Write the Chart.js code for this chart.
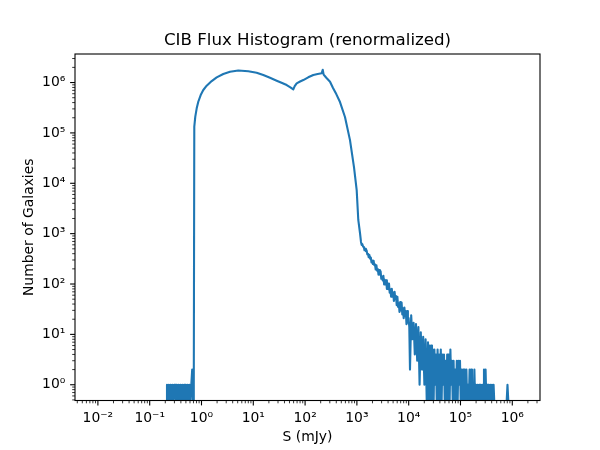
<!DOCTYPE html>
<html>
<head>
<meta charset="utf-8">
<title>CIB Flux Histogram</title>
<script src="https://cdn.jsdelivr.net/npm/chart.js@4.4.1/dist/chart.umd.min.js"></script>
<style>
  html, body { margin: 0; padding: 0; background: #fff; }
  #wrap { width: 600px; height: 450px; }
</style>
</head>
<body>
<div id="wrap"><canvas id="fluxChart" width="600" height="450"></canvas></div>
<script>
// Flux (mJy) and galaxy counts per bin
// faint end: a few single galaxies per bin
const lowFlux = [0.2115, 0.2158, 0.2246, 0.2337, 0.2432, 0.2532, 0.2634, 0.2742, 0.2854, 0.2972,
  0.3092, 0.3219, 0.3350, 0.3487, 0.3629, 0.3777, 0.3931, 0.4093, 0.4259, 0.4433, 0.4614, 0.4803,
  0.4995, 0.5200, 0.5414, 0.5636, 0.5864, 0.6104, 0.6353, 0.6613, 0.6882, 0.7100];
const lowCounts = [0, 1, 0, 1, 0, 1, 0, 1, 0, 1, 1, 0, 1, 0, 1, 0, 1, 0, 1, 0, 1, 0, 1, 0, 1, 0,
  1, 0, 1, 2, 0, 1];

// main population
const bulkFlux = [0.726, 0.759, 0.808, 0.867, 0.965, 1.083, 1.26, 1.574, 1.965, 2.635, 3.549,
  5.13, 8.01, 11.6, 15.6, 21, 28.3, 36, 44.2, 52, 59.2, 63, 68.8, 80, 92.3, 115, 144, 175, 209,
  219, 228, 245, 265, 303, 346, 400, 472, 589, 736, 879, 991, 1064, 1148, 1200];
const bulkCounts = [1.33e5, 2.10e5, 3.08e5, 4.16e5, 5.65e5, 7.11e5, 8.65e5, 1.07e6, 1.27e6,
  1.48e6, 1.64e6, 1.74e6, 1.68e6, 1.57e6, 1.41e6, 1.24e6, 1.09e6, 9.8e5, 8.93e5, 8.04e5, 7.34e5,
  8.5e5, 9.66e5, 1.05e6, 1.12e6, 1.27e6, 1.41e6, 1.48e6, 1.53e6, 1.795e6, 1.44e6, 1.32e6, 1.2e6,
  1.04e6, 7.8e5, 5.9e5, 4.1e5, 2.07e5, 7.2e4, 2.1e4, 7.3e3, 1.87e3, 1.03e3, 683];

// bright tail, getting noisy
const tailFlux = [1238, 1277, 1318, 1359, 1402, 1447, 1492, 1540, 1588, 1638,
  1690, 1744, 1799, 1856, 1914, 1975, 2037, 2102, 2168, 2236,
  2307, 2380, 2455, 2532, 2613, 2695, 2780, 2868, 2959, 3052,
  3149, 3248, 3351, 3457, 3566, 3679, 3795, 3915, 4039, 4167,
  4298, 4434, 4574, 4719, 4868, 5022, 5181, 5345, 5514, 5688,
  5867, 6053, 6245, 6442, 6646, 6856, 7072, 7296, 7526, 7765,
  8010, 8263, 8524, 8793, 9071, 9358, 9654, 9959, 10273, 10597,
  11176, 11788, 12435, 13118, 13834, 14593, 15393, 16234, 17124, 18064, 19053, 20097, 21200, 22360];
const tailCounts = [595, 617, 548, 547, 470, 502, 450, 466, 389, 399,
  339, 378, 319, 336, 269, 291, 249, 290, 237, 247,
  194, 236, 184, 199, 153, 189, 153, 180, 127, 140,
  118, 146, 98, 121, 102, 118, 80, 103, 79, 102,
  67, 79, 56, 80, 56, 68, 46, 70, 50, 58,
  38, 56, 35, 42, 28, 44, 30, 43, 25, 33,
  21, 34, 23, 29, 16, 29, 17, 21, 14, 2,
  24, 8, 17, 4, 16, 3, 14, 1, 11, 2, 9, 1, 8, 0];

// far tail: 0..7 galaxies per bin, plus one lone bin near 8e5
const farFlux = [23590, 24430, 25320, 26240, 27190, 28170, 29200, 30250, 31350, 32480,
  33650, 34870, 36130, 37440, 38800, 40200, 41660, 43160, 44720, 46340,
  48030, 49760, 51560, 53420, 55360, 57360, 59440, 61600, 63830, 66140,
  68520, 71010, 73570, 76230, 79000, 81850, 84820, 87900, 91090, 94380,
  97810, 101340, 105000, 108810, 112750, 116850, 121060, 125450, 129980, 134670,
  139560, 144620, 149860, 155270, 160900, 166720, 172750, 179020, 185490, 192220,
  199170, 206400, 213850, 221570, 229610, 237890, 246590, 255460, 264740, 274280,
  284180, 294500, 305110, 316230, 327630, 339530, 351780, 364460, 377760, 391410,
  405590, 420230, 435510, 451180,
  772700, 807800, 844500];
const farCounts = [7, 0, 6, 0, 6, 0, 5, 0, 5, 1,
  4, 0, 5, 0, 4, 0, 5, 0, 4, 1,
  4, 0, 3, 0, 4, 0, 4, 0, 5, 1,
  3, 0, 3, 0, 2, 0, 3, 0, 3, 1,
  3, 0, 2, 0, 2, 0, 2, 0, 2, 0,
  1, 0, 2, 0, 2, 0, 1, 0, 2, 0,
  1, 0, 1, 0, 1, 0, 1, 0, 1, 0,
  2, 0, 2, 0, 1, 0, 1, 0, 1, 0,
  1, 0, 1, 0,
  0, 1, 0];

const xTickValues = [1e-2, 1e-1, 1, 10, 100, 1e3, 1e4, 1e5, 1e6];
const xTickLabels = ['10⁻²', '10⁻¹', '10⁰', '10¹', '10²', '10³', '10⁴', '10⁵', '10⁶'];
const yTickValues = [1, 10, 100, 1e3, 1e4, 1e5, 1e6];
const yTickLabels = ['10⁰', '10¹', '10²', '10³', '10⁴', '10⁵', '10⁶'];

// axis limits (log margins like matplotlib's autoscale)
const xRange = [Math.pow(10, -2.442), Math.pow(10, 6.535)];
const yRange = [Math.pow(10, -0.3127), Math.pow(10, 6.5667)];

// empty bins can't sit on a log axis; put them just under the bottom edge
const LOG_FLOOR = 0.4;

const flux = lowFlux.concat(bulkFlux, tailFlux, farFlux);
const counts = lowCounts.concat(bulkCounts, tailCounts, farCounts);
const points = flux.map((s, i) => ({ x: s, y: counts[i] > 0 ? counts[i] : LOG_FLOOR }));

const FONT = 'DejaVu Sans';

// frame + log tick marks (majors and 2..9 minors), drawn outward
const axesFrame = {
  id: 'axesFrame',
  afterDraw(chart) {
    const { ctx, chartArea: a, scales } = chart;
    ctx.save();
    ctx.strokeStyle = '#000';
    for (const s of [scales.x, scales.y]) {
      const lo = Math.floor(Math.log10(s.min));
      const hi = Math.ceil(Math.log10(s.max));
      for (let e = lo; e <= hi; e++) {
        for (let m = 1; m <= 9; m++) {
          const v = m * Math.pow(10, e);
          if (v < s.min || v > s.max) continue;
          const major = m === 1;
          const len = major ? 4.9 : 2.8;
          ctx.lineWidth = major ? 1.1 : 0.8;
          const p = s.getPixelForValue(v);
          ctx.beginPath();
          if (s.axis === 'x') {
            ctx.moveTo(p, a.bottom);
            ctx.lineTo(p, a.bottom + len);
          } else {
            ctx.moveTo(a.left, p);
            ctx.lineTo(a.left - len, p);
          }
          ctx.stroke();
        }
      }
    }
    ctx.lineWidth = 1.1;
    ctx.strokeRect(a.left, a.top, a.right - a.left, a.bottom - a.top);
    ctx.restore();
  }
};

const tickFont = { family: FONT, size: 13.9 };

new Chart(document.getElementById('fluxChart'), {
  type: 'line',
  data: {
    datasets: [{
      data: points,
      borderColor: '#1f77b4',
      borderWidth: 2.1,
      borderJoinStyle: 'round',
      pointRadius: 0,
      tension: 0,
      fill: false,
      clip: 0
    }]
  },
  options: {
    responsive: false,
    animation: false,
    events: [],
    layout: { padding: { left: 0, right: 60, top: 0, bottom: 0 } },
    plugins: {
      legend: { display: false },
      tooltip: { enabled: false },
      title: {
        display: true,
        text: 'CIB Flux Histogram (renormalized)',
        fullSize: false,
        color: '#000',
        font: { family: FONT, size: 16.67, weight: 'normal', lineHeight: 1.2 },
        padding: { top: 31, bottom: 3 }
      }
    },
    scales: {
      x: {
        type: 'logarithmic',
        min: xRange[0],
        max: xRange[1],
        grid: { display: false, drawTicks: false },
        border: { display: false },
        afterBuildTicks: s => { s.ticks = xTickValues.map(v => ({ value: v })); },
        afterFit: s => { s.height = 49.5; },
        ticks: {
          autoSkip: false,
          maxRotation: 0,
          padding: 9.5,
          color: '#000',
          font: tickFont,
          callback: (v, i) => xTickLabels[i]
        },
        title: {
          display: true,
          text: 'S (mJy)',
          color: '#000',
          font: { family: FONT, size: 13.9 },
          padding: { top: 0, bottom: 4.5 }
        }
      },
      y: {
        type: 'logarithmic',
        min: yRange[0],
        max: yRange[1],
        grid: { display: false, drawTicks: false },
        border: { display: false },
        afterBuildTicks: s => { s.ticks = yTickValues.map(v => ({ value: v })); },
        afterFit: s => { s.width = 75; },
        ticks: {
          autoSkip: false,
          padding: 9.7,
          color: '#000',
          font: tickFont,
          callback: (v, i) => yTickLabels[i]
        },
        title: {
          display: true,
          text: 'Number of Galaxies',
          color: '#000',
          font: { family: FONT, size: 13.9 },
          padding: { top: 21, bottom: 0 }
        }
      }
    }
  },
  plugins: [axesFrame]
});
</script>
</body>
</html>
